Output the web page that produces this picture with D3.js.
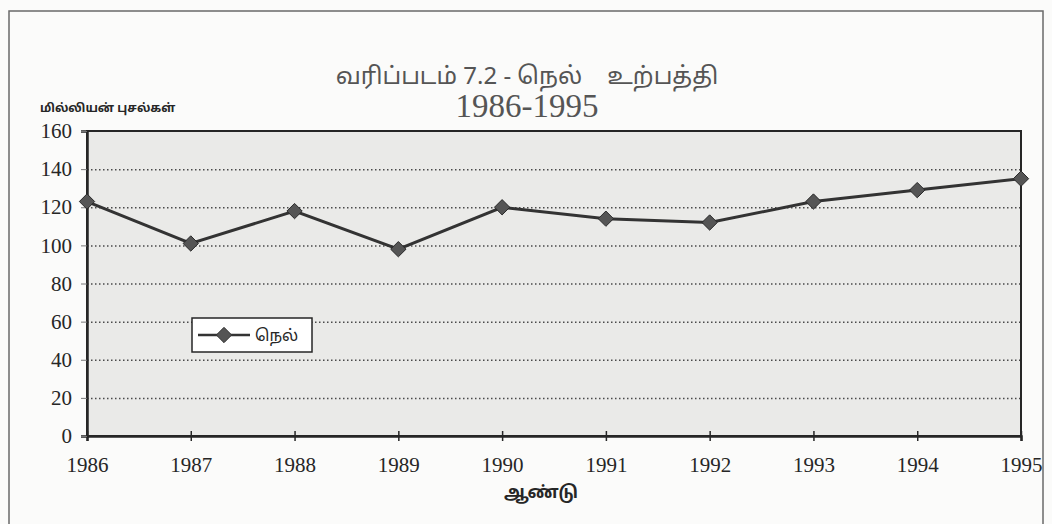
<!DOCTYPE html>
<html>
<head>
<meta charset="utf-8">
<script src="https://cdn.jsdelivr.net/npm/d3@7"></script>
<style>
  body { margin: 0; background: #fbfbfa; }
  svg { display: block; }
</style>
</head>
<body>
<div id="chart"></div>
<script>
// ── Data ─────────────────────────────────────────────────────
const years  = [1986, 1987, 1988, 1989, 1990, 1991, 1992, 1993, 1994, 1995];
const paddy  = [123, 101, 118, 98, 120, 114, 112, 123, 129, 135];
const yTicks = [0, 20, 40, 60, 80, 100, 120, 140, 160];

const TITLE_1    = 'வரிப்படம் 7.2 - நெல்    உற்பத்தி';
const TITLE_2    = '1986-1995';
const Y_TITLE    = 'மில்லியன் புசல்கள்';
const X_TITLE    = 'ஆண்டு';
const SERIES_LBL = 'நெல்';

const width = 1052, height = 524;
const margin = { top: 131, right: 31, bottom: 88, left: 87 };
const innerW = width - margin.left - margin.right;
const innerH = height - margin.top - margin.bottom;

const SERIF = '"Liberation Serif", "Times New Roman", serif';
const SANS  = '"Noto Sans", "Noto Sans Tamil", sans-serif';
const INK   = '#262626';

const svg = d3.select('#chart').append('svg')
  .attr('width', width)
  .attr('height', height);

// outer frame (scanned page border)
svg.append('rect')
  .attr('x', 9).attr('y', 11)
  .attr('width', 1034).attr('height', 530)
  .attr('fill', 'none')
  .attr('stroke', '#6a6a6a')
  .attr('stroke-width', 1.5);

// ── Titles ──────────────────────────────────────────────────
svg.append('text')
  .attr('x', 527).attr('y', 84)
  .attr('text-anchor', 'middle')
  .attr('font-family', SANS)
  .attr('font-size', 24)
  .attr('fill', '#555')
  .style('white-space', 'pre')
  .text(TITLE_1);

svg.append('text')
  .attr('x', 527).attr('y', 117)
  .attr('text-anchor', 'middle')
  .attr('font-family', SERIF)
  .attr('font-size', 33)
  .attr('fill', '#555')
  .text(TITLE_2);

svg.append('text')
  .attr('x', 40).attr('y', 112)
  .attr('font-family', SANS)
  .attr('font-size', 12)
  .attr('font-weight', 700)
  .attr('fill', INK)
  .text(Y_TITLE);

const g = svg.append('g')
  .attr('transform', `translate(${margin.left},${margin.top})`);

// ── Scales ──────────────────────────────────────────────────
const x = d3.scalePoint().domain(years).range([0, innerW]);
const y = d3.scaleLinear().domain([0, 160]).range([innerH, 0]);

// plot background
g.append('rect')
  .attr('width', innerW).attr('height', innerH)
  .attr('fill', '#eaeae8');

// ── Grid (dotted) ───────────────────────────────────────────
g.append('g')
  .call(d3.axisLeft(y).tickValues(yTicks.filter(d => d > 0 && d < 160)).tickSize(-innerW).tickFormat(''))
  .call(ax => ax.select('.domain').remove())
  .call(ax => ax.selectAll('line')
    .attr('stroke', '#4a4a4a')
    .attr('stroke-width', 1.5)
    .attr('stroke-dasharray', '1.5 2.5'));

// plot border
g.append('rect')
  .attr('width', innerW).attr('height', innerH)
  .attr('fill', 'none')
  .attr('stroke', INK)
  .attr('stroke-width', 2);

// ── Axes ────────────────────────────────────────────────────
g.append('g')
  .attr('transform', `translate(0,${innerH})`)
  .call(d3.axisBottom(x).tickSize(5).tickPadding(16))
  .call(ax => ax.select('.domain').attr('stroke', INK).attr('stroke-width', 2.5))
  .call(ax => ax.selectAll('.tick line').attr('stroke', INK).attr('stroke-width', 1.5).attr('y1', -5))
  .call(ax => ax.selectAll('text')
    .attr('font-family', SERIF)
    .attr('font-size', 21)
    .attr('fill', INK));

g.append('g')
  .call(d3.axisLeft(y).tickValues(yTicks).tickSize(6).tickPadding(9))
  .call(ax => ax.select('.domain').attr('stroke', INK).attr('stroke-width', 2.5))
  .call(ax => ax.selectAll('.tick line').attr('stroke', '#777').attr('stroke-width', 1))
  .call(ax => ax.selectAll('text')
    .attr('font-family', SERIF)
    .attr('font-size', 21)
    .attr('fill', INK));

svg.append('text')
  .attr('x', 541).attr('y', 498)
  .attr('text-anchor', 'middle')
  .attr('font-family', SANS)
  .attr('font-size', 17)
  .attr('font-weight', 700)
  .attr('fill', INK)
  .text(X_TITLE);

// ── Series line + diamonds ──────────────────────────────────
const series = years.map((yr, i) => ({ year: yr, value: paddy[i] }));

g.append('path')
  .datum(series)
  .attr('fill', 'none')
  .attr('stroke', '#333')
  .attr('stroke-width', 3)
  .attr('d', d3.line().x(d => x(d.year)).y(d => y(d.value)));

const diamond = d3.symbol().type(d3.symbolDiamond2).size(150);

g.selectAll('.pt')
  .data(series)
  .join('path')
  .attr('class', 'pt')
  .attr('transform', d => `translate(${x(d.year)},${y(d.value)})`)
  .attr('d', diamond)
  .attr('fill', '#555')
  .attr('stroke', '#2a2a2a')
  .attr('stroke-width', 1);

// ── Legend ──────────────────────────────────────────────────
const lg = svg.append('g').attr('transform', 'translate(192,318)');
lg.append('rect')
  .attr('width', 120).attr('height', 34)
  .attr('fill', '#fff')
  .attr('stroke', INK)
  .attr('stroke-width', 1.5);
lg.append('line')
  .attr('x1', 6).attr('x2', 58).attr('y1', 17).attr('y2', 17)
  .attr('stroke', '#333').attr('stroke-width', 2.5);
lg.append('path')
  .attr('transform', 'translate(32,17)')
  .attr('d', diamond)
  .attr('fill', '#555')
  .attr('stroke', '#333');
lg.append('text')
  .attr('x', 63).attr('y', 23)
  .attr('font-family', SANS)
  .attr('font-size', 16)
  .attr('fill', INK)
  .text(SERIES_LBL);
</script>
</body>
</html>
